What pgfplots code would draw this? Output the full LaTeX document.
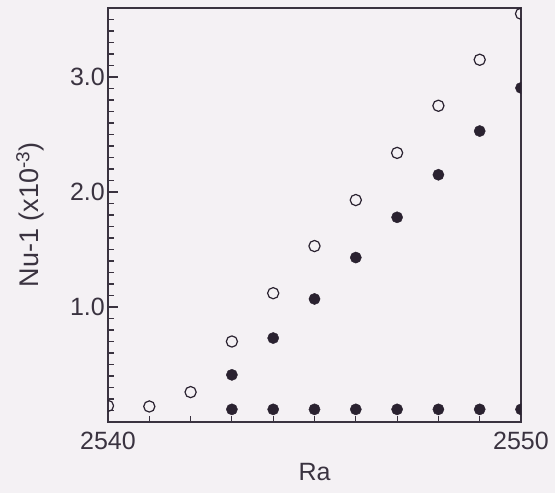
\documentclass[border=0pt]{standalone}
\usepackage{pgfplots}
\pgfplotsset{compat=1.18}
\usepackage{fontspec}
\setmainfont{Liberation Sans}
\definecolor{bg}{HTML}{F4F1F4}
\definecolor{ink}{HTML}{3A3340}
\definecolor{dot}{HTML}{2A2230}
\begin{document}
\begin{tikzpicture}
\useasboundingbox (-108pt,-71pt) rectangle (447pt,422pt);
\fill[bg] (-108pt,-71pt) rectangle (447pt,422pt);
\begin{axis}[
  at={(0,0)}, anchor=south west,
  scale only axis, width=413pt, height=414pt,
  xmin=2540, xmax=2550, ymin=0, ymax=3.6,
  axis line style={ink, line width=1.3pt},
  every tick/.style={ink, line width=1.1pt},
  tick align=inside,
  xtick pos=lower, ytick pos=left,
  xtick={2540,2550},
  minor xtick={2541,2542,2543,2544,2545,2546,2547,2548,2549},
  ytick={1,2,3},
  yticklabels={1.0,2.0,3.0},
  minor ytick={0.1,0.2,0.3,0.4,0.5,0.6,0.7,0.8,0.9,1.1,1.2,1.3,1.4,1.5,1.6,1.7,1.8,1.9,2.1,2.2,2.3,2.4,2.5,2.6,2.7,2.8,2.9,3.1,3.2,3.3,3.4,3.5},
  major tick length=10pt, minor tick length=6pt,
  /pgf/number format/assume math mode=true,
  xticklabel={\pgfmathprintnumber[1000 sep={}]{\tick}},
  ticklabel style={font=\fontsize{25}{30}\selectfont, text=ink},
  yticklabel style={inner sep=0pt, xshift=-3pt},
  xticklabel style={inner sep=0pt, yshift=-10pt},
  xlabel={Ra},
  ylabel={Nu-1 (x10\textsuperscript{-3})},
  xlabel style={font=\fontsize{25}{30}\selectfont, text=ink, at={(axis description cs:0.5,0)}, anchor=north, inner sep=0pt, yshift=-41pt},
  ylabel style={font=\fontsize{27}{32}\selectfont, text=ink, at={(axis description cs:0,0.5)}, anchor=center, inner sep=0pt, yshift=78pt},
  clip marker paths=true,
]
\addplot[only marks, mark=o, mark size=5.6pt, mark options={dot, line width=1.2pt, fill=bg}]
coordinates {(2540,0.14) (2541,0.135) (2542,0.26) (2543,0.70) (2544,1.12) (2545,1.53) (2546,1.93) (2547,2.34) (2548,2.75) (2549,3.15) (2550,3.55)};
\addplot[only marks, mark=*, mark size=5.6pt, mark options={dot, fill=dot}]
coordinates {(2543,0.41) (2544,0.73) (2545,1.07) (2546,1.43) (2547,1.78) (2548,2.15) (2549,2.53) (2550,2.905)};
\addplot[only marks, mark=*, mark size=5.6pt, mark options={dot, fill=dot}]
coordinates {(2543,0.11) (2544,0.11) (2545,0.11) (2546,0.11) (2547,0.11) (2548,0.11) (2549,0.11) (2550,0.11)};
\end{axis}
\end{tikzpicture}
\end{document}
